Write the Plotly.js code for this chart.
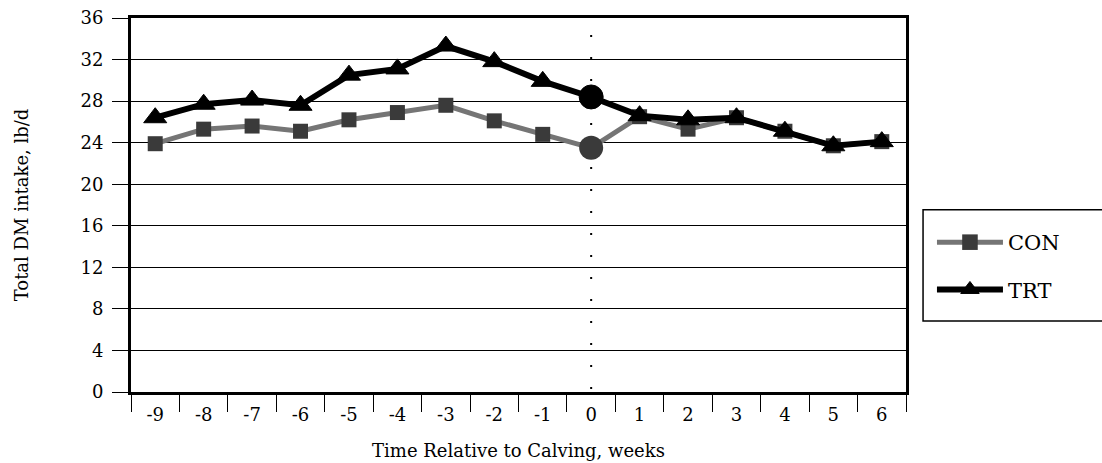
<!DOCTYPE html>
<html><head><meta charset="utf-8">
<script src="https://cdn.plot.ly/plotly-3.0.1.min.js"></script>
<style>html,body{margin:0;padding:0;background:#fff;} #chart{width:1102px;height:463px;}</style>
</head><body><div id="chart"></div>
<script>
const weeks = [-9,-8,-7,-6,-5,-4,-3,-2,-1,0,1,2,3,4,5,6];
const conIntake = [23.9,25.3,25.6,25.1,26.2,26.9,27.6,26.1,24.8,23.5,26.5,25.3,26.4,25.1,23.7,24.1];
const trtIntake = [26.4,27.7,28.1,27.6,30.5,31.1,33.3,31.8,29.9,28.4,26.6,26.2,26.4,25.1,23.7,24.1];
const yTicks = [0,4,8,12,16,20,24,28,32,36];
const calvingWeek = 0;
const seriesNames = ['CON','TRT'];
const xTitle = 'Time Relative to Calving, weeks';
const yTitle = 'Total DM intake, lb/d';

const xCats = weeks.map(String);
const calvingIndex = weeks.indexOf(calvingWeek);
const FONT = 'DejaVu Serif, serif';
function symbols(base){ return weeks.map(w => w === calvingWeek ? 'circle' : base); }
function sizes(base, big){ return weeks.map(w => w === calvingWeek ? big : base); }

const traces = [
  {
    x: xCats, y: conIntake, name: seriesNames[0], type: 'scatter', mode: 'lines+markers',
    legendgroup: 'a',
    line: {color: '#757575', width: 5},
    marker: {symbol: symbols('square'), size: sizes(15, 24), color: '#3a3a3a', opacity: 1, line: {width: 0}}
  },
  {
    x: xCats, y: trtIntake, name: seriesNames[1], type: 'scatter', mode: 'lines+markers',
    legendgroup: 'b',
    line: {color: '#000000', width: 6},
    marker: {symbol: symbols('triangle-up'), size: sizes(20, 24), color: '#000000', opacity: 1,
             line: {width: 1, color: '#000000'}}
  }
];

const layout = {
  width: 1102, height: 463,
  margin: {l: 131, r: 196, t: 18, b: 71},
  paper_bgcolor: '#ffffff', plot_bgcolor: '#ffffff',
  font: {family: FONT, size: 18, color: '#000000'},
  showlegend: true,
  hovermode: false,
  legend: {
    x: 1.0335, y: 0.4545, xanchor: 'left', yanchor: 'top',
    bgcolor: 'rgba(0,0,0,0)', borderwidth: 0,
    font: {family: FONT, size: 21, color: '#000'},
    itemwidth: 66, traceorder: 'grouped', tracegroupgap: 17
  },
  xaxis: {
    type: 'category', categoryorder: 'array', categoryarray: xCats,
    range: [-0.5, 15.5], tickson: 'boundaries',
    ticks: 'outside', ticklen: 17, tickwidth: 1, tickcolor: '#000', ticklabelstandoff: 4,
    showline: true, linewidth: 3, linecolor: '#000', mirror: true,
    showgrid: false, zeroline: false, fixedrange: true,
    tickfont: {family: FONT, size: 18},
    title: {text: xTitle, font: {family: FONT, size: 18}, standoff: 21}
  },
  yaxis: {
    range: [0, 36], tickvals: yTicks, ticktext: yTicks.map(String),
    ticks: 'outside', ticklen: 16, tickwidth: 1, tickcolor: '#000', ticklabelstandoff: 5,
    showline: true, linewidth: 3, linecolor: '#000', mirror: true,
    showgrid: true, gridcolor: '#000', gridwidth: 1, zeroline: false, fixedrange: true,
    tickfont: {family: FONT, size: 18},
    title: {text: yTitle, font: {family: FONT, size: 18}, standoff: 48}
  },
  shapes: [
    {type: 'line', xref: 'x', yref: 'y', x0: calvingIndex, x1: calvingIndex, y0: 0.3, y1: 34.5,
     line: {color: '#000', width: 2, dash: '2px,20px'}, layer: 'below'},
    {type: 'rect', xref: 'paper', yref: 'paper', x0: 1.022, x1: 1.3, y0: 0.19, y1: 0.487,
     line: {color: '#000', width: 1.5}, fillcolor: 'rgba(0,0,0,0)'}
  ]
};

Plotly.newPlot('chart', traces, layout, {displayModeBar: false, staticPlot: true});
</script>
</body></html>
